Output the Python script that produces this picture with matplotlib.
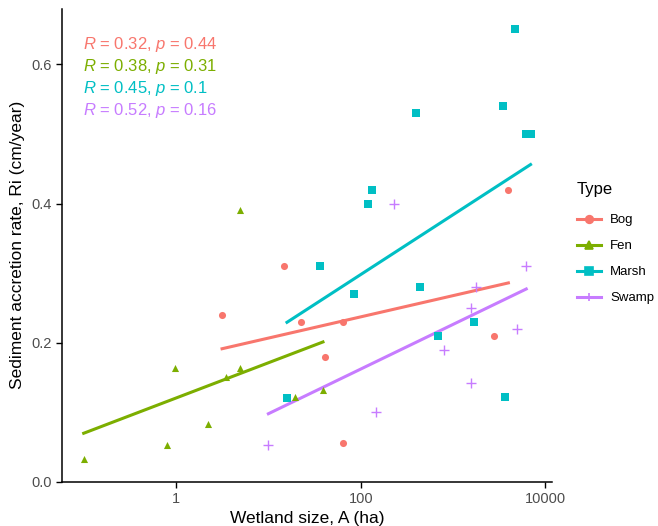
import numpy as np
import matplotlib
matplotlib.use("Agg")
import matplotlib.pyplot as plt
from matplotlib.lines import Line2D

plt.rcParams['font.family'] = ['Liberation Sans', 'DejaVu Sans']
plt.rcParams['mathtext.fontset'] = 'custom'
plt.rcParams['mathtext.rm'] = 'Liberation Sans'
plt.rcParams['mathtext.it'] = 'Liberation Sans:italic'

# wetland size (ha) and sediment accretion rate (cm/year)
bog_area = [3.15, 14.8, 22.6, 41, 64.5, 64.5, 2790, 3970]
bog_rate = [0.24, 0.31, 0.23, 0.18, 0.23, 0.056, 0.21, 0.42]

fen_area = [0.1, 0.8, 0.98, 2.2, 3.5, 4.9, 4.9, 19.5, 39]
fen_rate = [0.033, 0.053, 0.163, 0.083, 0.151, 0.163, 0.39, 0.122, 0.132]

marsh_area = [15.9, 36.3, 85, 120, 132, 398, 437, 690, 1700, 3480, 3660, 4700, 6200, 6900]
marsh_rate = [0.121, 0.31, 0.27, 0.40, 0.42, 0.53, 0.28, 0.21, 0.23, 0.54, 0.122, 0.65, 0.50, 0.50]

swamp_area = [10, 147, 230, 800, 1580, 1580, 1780, 4900, 6200]
swamp_rate = [0.053, 0.10, 0.40, 0.19, 0.25, 0.142, 0.28, 0.22, 0.31]

types = ['Bog', 'Fen', 'Marsh', 'Swamp']
colors = ['#F8766D', '#7CAE00', '#00BFC4', '#C77CFF']
markers = ['o', '^', 's', '+']
stats = ['$\\it{R}$ = 0.32, $\\it{p}$ = 0.44',
         '$\\it{R}$ = 0.38, $\\it{p}$ = 0.31',
         '$\\it{R}$ = 0.45, $\\it{p}$ = 0.1',
         '$\\it{R}$ = 0.52, $\\it{p}$ = 0.16']

data = [(bog_area, bog_rate), (fen_area, fen_rate),
        (marsh_area, marsh_rate), (swamp_area, swamp_rate)]

fig = plt.figure(figsize=(6.58, 5.26), dpi=100)
ax = fig.add_axes([0.094, 0.0837, 0.745, 0.9])

handles = []
for (x, y), name, col, mk in zip(data, types, colors, markers):
    x = np.array(x)
    y = np.array(y)
    if mk == '+':
        ax.scatter(x, y, marker=mk, color=col, s=55, linewidths=1.0, zorder=3)
    elif mk == 's':
        ax.scatter(x, y, marker=mk, color=col, s=28, linewidths=0, zorder=3)
    else:
        ax.scatter(x, y, marker=mk, color=col, s=26, linewidths=0, zorder=3)
    # linear fit on log10 of area
    k, b = np.polyfit(np.log10(x), y, 1)
    xs = np.logspace(np.log10(x.min()), np.log10(x.max()), 50)
    ax.plot(xs, k * np.log10(xs) + b, color=col, lw=2.2, zorder=2)
    handles.append(Line2D([0], [0], color=col, lw=2.2, marker=mk, markersize=5.5,
                          markeredgewidth=1.2, label=name))

for i, (s, col) in enumerate(zip(stats, colors)):
    ax.text(0.043, 0.925 - i * 0.0465, s, transform=ax.transAxes, color=col,
            fontsize=12, va='center', ha='left')

ax.set_xscale('log')
ax.set_xlim(0.058, 11800)
ax.set_ylim(0, 0.68)
ax.set_xticks([1, 100, 10000])
ax.set_xticklabels(['1', '100', '10000'])
ax.minorticks_off()
ax.set_yticks([0.0, 0.2, 0.4, 0.6])
ax.set_yticklabels(['0.0', '0.2', '0.4', '0.6'])

for side in ['top', 'right']:
    ax.spines[side].set_visible(False)
for side in ['left', 'bottom']:
    ax.spines[side].set_linewidth(1.1)
ax.tick_params(colors='#4D4D4D', labelsize=10.5, length=4, width=1)
ax.tick_params(axis='both', color='black')

ax.set_xlabel('Wetland size, A (ha)', fontsize=12.5, labelpad=3)
ax.set_ylabel('Sediment accretion rate, Ri (cm/year)', fontsize=12.5, labelpad=4)

leg = fig.legend(handles=handles, title='Type', loc='upper left',
                 bbox_to_anchor=(0.859, 0.676), frameon=False, fontsize=9.5,
                 title_fontsize=12, handlelength=1.8, labelspacing=1.05,
                 handletextpad=0.7)
leg._legend_box.align = 'left'
leg._legend_box.sep = 12

plt.savefig('out.png', dpi=100)
plt.close()
